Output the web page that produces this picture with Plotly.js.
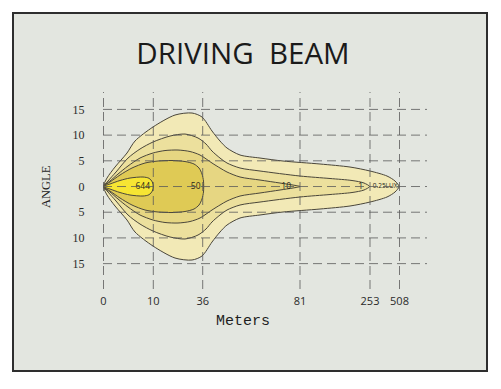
<!DOCTYPE html>
<html>
<head>
<meta charset="utf-8">
<script src="https://cdn.plot.ly/plotly-3.0.1.min.js"></script>
<style>html,body{margin:0;padding:0;background:#fff;}#chart{width:501px;height:389px;}</style>
</head>
<body>
<div id="chart"></div>
<script>
// ---- axis ticks ----
const xPos = [0, 49.8, 99.2, 196.5, 266.5, 296];
const xLabels = ['0', '10', '36', '81', '253', '508'];
const yTicks = [-15, -10, -5, 0, 5, 10, 15];
const yLabels = ['15', '10', '5', '0', '5', '10', '15'];

// ---- iso-lux contours (upper half, symmetric about 0) ----
const contourNames = ['0.25LUX', '1', '10', '50', '644'];
const lux025_x = [0, 3.5, 11.5, 23.5, 31.5, 49.5, 71.5, 88.5, 98.5, 108.5, 116.5, 123.5, 136.5, 156.5, 179.5, 216.5, 246.5, 266.5, 283.5, 291.5, 295.5];
const lux025_y = [0, 1.65, 3.79, 6.52, 8.85, 11.58, 13.91, 14.3, 13.52, 10.8, 8.85, 7.49, 6.13, 5.54, 4.96, 4.38, 3.79, 3.02, 2.04, 1.07, 0];
const lux1_x = [0, 4.5, 12.5, 24.5, 36.5, 49.5, 66.5, 81.5, 94.5, 102.5, 108.5, 116.5, 123.5, 136.5, 156.5, 196.5, 226.5, 248.5, 260.5, 266];
const lux1_y = [0, 1.07, 2.82, 5.54, 7.3, 8.66, 9.82, 10.21, 9.44, 8.27, 6.9, 5.54, 4.57, 3.6, 3.02, 2.04, 1.56, 1.17, 0.68, 0];
const lux10_x = [0, 6.5, 14.5, 24.5, 36.5, 49.5, 61.5, 74.5, 86.5, 96.5, 108.5, 116.5, 123.5, 136.5, 156.5, 176.5, 189.5, 196.5];
const lux10_y = [0, 1.07, 2.43, 3.99, 5.54, 6.52, 7.0, 7.1, 6.81, 6.13, 4.57, 3.6, 2.82, 1.85, 1.26, 0.68, 0.29, 0];
const lux50_x = [0, 6.5, 16.5, 28.5, 41.5, 54.5, 68.5, 81.5, 90.5, 95.5, 98.5, 100, 100.2];
const lux50_y = [0, 0.88, 2.24, 3.6, 4.57, 4.96, 5.06, 4.86, 4.38, 3.6, 2.43, 1.07, 0];
const lux644_x = [0, 6.5, 16.5, 26.5, 39.5, 45.5, 48.8, 49.8];
const lux644_y = [0, 0.49, 1.17, 1.65, 1.85, 1.6, 0.88, 0];

const halves = [[lux025_x, lux025_y], [lux1_x, lux1_y], [lux10_x, lux10_y], [lux50_x, lux50_y], [lux644_x, lux644_y]];
const fills = ['#f2e9b6', '#ece09d', '#e6d682', '#dfca55', '#f6e533'];
const labelGap = [1.5, 6.5, 9, 3.2, 3.2];
const labelSize = [6.5, 8.5, 8.5, 8.5, 8.5];

const traces = [];
halves.forEach(function (h, i) {
  const ux = h[0], uy = h[1];
  const xs = ux.concat(ux.slice(0, -1).reverse());
  const ys = uy.concat(uy.slice(0, -1).reverse().map(function (v) { return -v; }));
  traces.push({
    type: 'scatter', mode: 'lines', x: xs, y: ys, fill: 'toself',
    fillcolor: fills[i], line: {color: '#4a463a', width: 1, shape: 'spline', smoothing: 0.8},
    hoverinfo: 'skip', showlegend: false, name: contourNames[i]
  });
});
// contour labels near each tip
halves.forEach(function (h, i) {
  const tip = Math.max.apply(null, h[0]);
  traces.push({
    type: 'scatter', mode: 'text', x: [tip - labelGap[i]], y: [0], text: [contourNames[i]],
    textposition: 'middle left', textfont: {family: 'Open Sans, sans-serif', size: labelSize[i], color: '#1f1f18'},
    hoverinfo: 'skip', showlegend: false
  });
});

// ---- layout geometry (pixels) ----
const W = 501, H = 389, L = 103, R = 74, T = 92, B = 100;
const pw = W - L - R, ph = H - T - B;
function px(xp) { return (xp - L) / pw; }
function py(yp) { return (H - B - yp) / ph; }

const shapes = [{
  type: 'rect', xref: 'paper', yref: 'paper', x0: px(13), x1: px(487), y0: py(371), y1: py(13),
  fillcolor: '#e3e6e0', line: {color: '#2e2e2e', width: 2}, layer: 'below'
}];
const gridLine = {color: 'rgba(90,90,90,0.8)', width: 1, dash: '9px,5px'};
xPos.forEach(function (v) {
  shapes.push({type: 'line', xref: 'x', yref: 'paper', x0: v, x1: v, y0: 0, y1: 1, line: gridLine, layer: 'above'});
});
yTicks.forEach(function (v) {
  shapes.push({type: 'line', xref: 'paper', yref: 'y', x0: 0, x1: 1, y0: v, y1: v, line: gridLine, layer: 'above'});
});

const layout = {
  width: W, height: H,
  margin: {l: L, r: R, t: T, b: B, pad: 0},
  paper_bgcolor: '#ffffff', plot_bgcolor: 'rgba(0,0,0,0)',
  title: {text: 'DRIVING\u00a0 BEAM', font: {family: 'Open Sans, sans-serif', size: 29.5, color: '#1a1a1a'},
          xref: 'container', yref: 'container', x: 243 / W, y: 1 - 53.5 / H, xanchor: 'center', yanchor: 'middle'},
  xaxis: {range: [-0.5, pw - 0.5], tickvals: xPos, ticktext: xLabels, showgrid: false, zeroline: false,
          showline: false, ticks: 'outside', ticklen: 2, tickcolor: 'rgba(0,0,0,0)',
          tickfont: {family: 'Open Sans, sans-serif', size: 11, color: '#2a2a2a'}, fixedrange: true},
  yaxis: {range: [-19.94, 18.39], tickvals: yTicks, ticktext: yLabels, showgrid: false, zeroline: false,
          showline: false, ticks: 'outside', ticklen: 15, tickcolor: 'rgba(0,0,0,0)',
          tickfont: {family: 'Liberation Serif, serif', size: 12, color: '#2a2a2a'}, fixedrange: true},
  shapes: shapes,
  annotations: [
    {text: 'Meters', xref: 'paper', yref: 'paper', x: px(243), y: py(321), showarrow: false,
     xanchor: 'center', yanchor: 'middle', font: {family: 'Liberation Mono, monospace', size: 15, color: '#1e1e1e'}},
    {text: 'ANGLE', xref: 'paper', yref: 'paper', x: px(46), y: py(187), showarrow: false, textangle: -90,
     xanchor: 'center', yanchor: 'middle', font: {family: 'Liberation Serif, serif', size: 12.5, color: '#1e1e1e'}}
  ]
};

Plotly.newPlot('chart', traces, layout, {displayModeBar: false, staticPlot: true});
</script>
</body>
</html>
